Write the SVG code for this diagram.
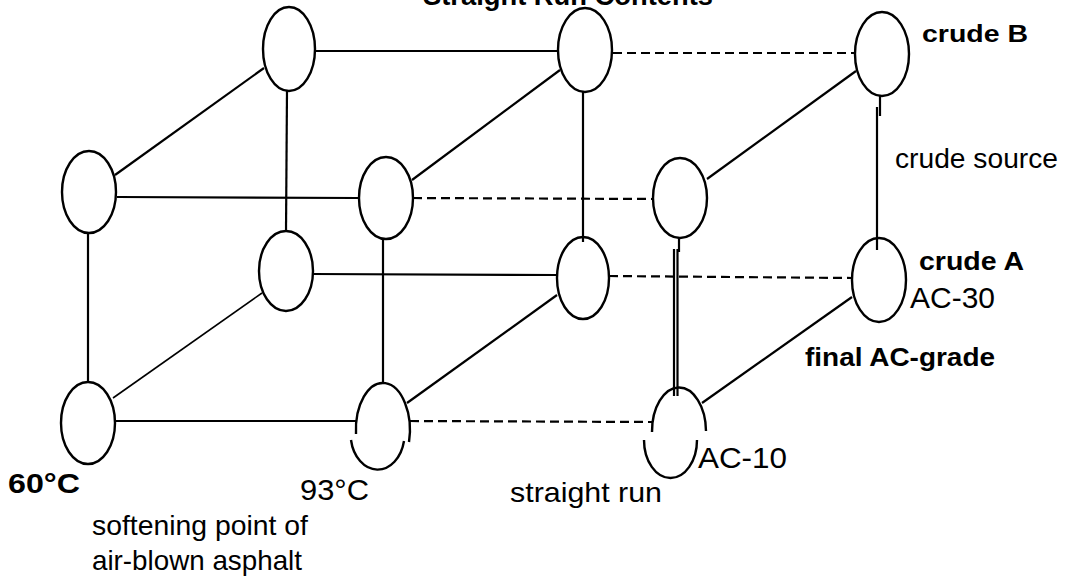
<svg xmlns="http://www.w3.org/2000/svg" width="1070" height="582" viewBox="0 0 1070 582">
<style>
.n{fill:none;stroke:#000;stroke-width:2.4}
.s{stroke:#000;stroke-width:2.2;fill:none}
.t{stroke:#000;stroke-width:1.6;fill:none}
.d{stroke:#000;stroke-width:2.2;fill:none;stroke-dasharray:9 5}
.b{font-family:"Liberation Sans",Arial,sans-serif;font-weight:bold;fill:#000}
.r{font-family:"Liberation Sans",Arial,sans-serif;fill:#000}
</style>
<rect width="1070" height="582" fill="#fff"/>
<g id="connectors">
  <line class="s" x1="315" y1="51" x2="558" y2="51"/>
  <line class="d" x1="613" y1="53" x2="855" y2="53"/>
  <line class="s" x1="117" y1="197" x2="358" y2="198"/>
  <line class="d" x1="413" y1="198" x2="653" y2="199"/>
  <line class="s" x1="313" y1="274" x2="556" y2="275"/>
  <line class="d" x1="609" y1="276" x2="852" y2="278"/>
  <line class="s" x1="115" y1="421" x2="356" y2="421"/>
  <line class="d" x1="410" y1="421" x2="652" y2="422"/>
  <line class="s" x1="264" y1="68" x2="115" y2="175"/>
  <line class="s" x1="560" y1="70" x2="412" y2="180"/>
  <line class="s" x1="856" y1="71" x2="707" y2="179"/>
  <line class="t" x1="262" y1="293" x2="113" y2="398"/>
  <line class="s" x1="557" y1="295" x2="407" y2="403"/>
  <line class="s" x1="852" y1="297" x2="702" y2="403"/>
  <line class="s" x1="88" y1="233" x2="88" y2="382"/>
  <line class="s" x1="287" y1="90" x2="286" y2="231"/>
  <line class="s" x1="383" y1="240" x2="383" y2="384"/>
  <line class="s" x1="583" y1="92" x2="583" y2="242" stroke-width="3.2"/>
  <line class="s" x1="679" y1="238" x2="679" y2="252"/>
  <line class="s" x1="674" y1="249" x2="674" y2="396"/>
  <line class="s" x1="677.5" y1="249" x2="677.5" y2="396"/>
  <line class="s" x1="880" y1="95" x2="880" y2="116" stroke-width="3"/>
  <line class="s" x1="877" y1="107" x2="877" y2="250"/>
</g>
<g id="node-back-top-60"><ellipse class="n" cx="289" cy="49" rx="26" ry="42"/></g>
<g id="node-back-top-93"><ellipse class="n" cx="585" cy="50" rx="27" ry="42"/></g>
<g id="node-back-top-sr"><ellipse class="n" cx="882" cy="54" rx="27" ry="42"/></g>
<g id="node-front-top-60"><ellipse class="n" cx="89" cy="192" rx="27" ry="41"/></g>
<g id="node-front-top-93"><ellipse class="n" cx="386" cy="198" rx="27" ry="41"/></g>
<g id="node-front-top-sr"><ellipse class="n" cx="680" cy="198" rx="27" ry="40"/></g>
<g id="node-back-bottom-60"><ellipse class="n" cx="286" cy="271" rx="27" ry="40"/></g>
<g id="node-back-bottom-93"><ellipse class="n" cx="583" cy="278" rx="26" ry="41"/></g>
<g id="node-back-bottom-sr"><ellipse class="n" cx="879" cy="280" rx="27" ry="42"/></g>
<g id="node-front-bottom-60"><ellipse class="n" cx="88" cy="423" rx="27" ry="41"/></g>
<g id="node-front-bottom-93">
  <path class="n" d="M356,434 A27,47 0 1 1 409,442"/>
  <path class="n" d="M351,440 A27,36 0 0 0 404,441"/>
</g>
<g id="node-front-bottom-sr">
  <path class="n" d="M652,432 A27,44 0 1 1 706,431"/>
  <path class="n" d="M644,440 A26.5,38 0 0 0 697,440"/>
</g>
<g id="labels">
  <text class="b" x="423" y="5" font-size="27" textLength="290" lengthAdjust="spacingAndGlyphs">Straight Run Contents</text>
  <text class="b" x="922" y="42" font-size="24" textLength="106" lengthAdjust="spacingAndGlyphs">crude B</text>
  <text class="r" x="895" y="168" font-size="27" textLength="163" lengthAdjust="spacingAndGlyphs">crude  source</text>
  <text class="b" x="919" y="270" font-size="25" textLength="105" lengthAdjust="spacingAndGlyphs">crude A</text>
  <text class="r" x="910" y="308" font-size="30" textLength="85" lengthAdjust="spacingAndGlyphs">AC-30</text>
  <text class="b" x="805" y="366" font-size="25" textLength="190" lengthAdjust="spacingAndGlyphs">final AC-grade</text>
  <text class="r" x="698" y="468" font-size="30" font-weight="500" textLength="89" lengthAdjust="spacingAndGlyphs">AC-10</text>
  <text class="r" x="510" y="502" font-size="28" textLength="152" lengthAdjust="spacingAndGlyphs">straight  run</text>
  <text class="b" x="8" y="493" font-size="28" textLength="72" lengthAdjust="spacingAndGlyphs">60°C</text>
  <text class="r" x="300" y="500" font-size="30" textLength="69" lengthAdjust="spacingAndGlyphs">93°C</text>
  <text class="r" x="92" y="535" font-size="28" textLength="216" lengthAdjust="spacingAndGlyphs">softening point of</text>
  <text class="r" x="92" y="570" font-size="28" textLength="210" lengthAdjust="spacingAndGlyphs">air-blown  asphalt</text>
</g>
</svg>
